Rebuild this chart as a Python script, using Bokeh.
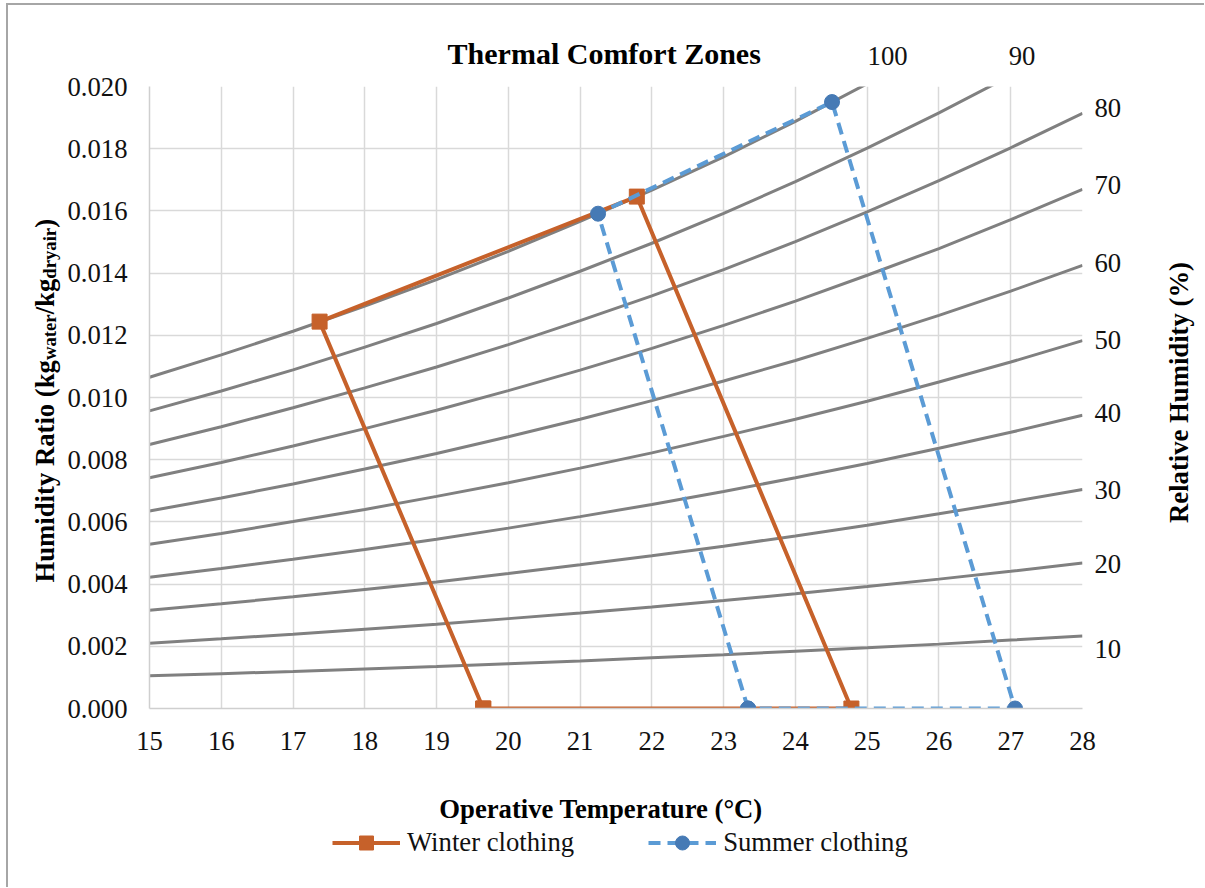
import math
from bokeh.plotting import figure
from bokeh.layouts import column, row
from bokeh.models import (Range1d, FixedTicker, NumeralTickFormatter, Label, LinearAxis,
                          Legend, LegendItem)
from bokeh.embed import file_html
from bokeh.resources import INLINE

# ---------------- data ----------------
temps = [15, 16, 17, 18, 19, 20, 21, 22, 23, 24, 25, 26, 27, 28]

rh_10 = [0.00105, 0.00112, 0.00119, 0.00127, 0.00135, 0.00144, 0.00153, 0.00163, 0.00173, 0.00184, 0.00195, 0.00207, 0.00220, 0.00233]
rh_20 = [0.00210, 0.00224, 0.00239, 0.00255, 0.00271, 0.00289, 0.00307, 0.00326, 0.00347, 0.00369, 0.00392, 0.00416, 0.00441, 0.00468]
rh_30 = [0.00316, 0.00337, 0.00359, 0.00383, 0.00407, 0.00434, 0.00462, 0.00491, 0.00522, 0.00555, 0.00589, 0.00626, 0.00664, 0.00704]
rh_40 = [0.00422, 0.00450, 0.00480, 0.00511, 0.00544, 0.00580, 0.00617, 0.00656, 0.00698, 0.00742, 0.00788, 0.00837, 0.00888, 0.00943]
rh_50 = [0.00528, 0.00563, 0.00601, 0.00640, 0.00682, 0.00726, 0.00773, 0.00822, 0.00875, 0.00930, 0.00988, 0.01050, 0.01114, 0.01183]
rh_60 = [0.00635, 0.00677, 0.00722, 0.00770, 0.00820, 0.00874, 0.00930, 0.00990, 0.01053, 0.01119, 0.01190, 0.01264, 0.01342, 0.01425]
rh_70 = [0.00742, 0.00791, 0.00844, 0.00900, 0.00959, 0.01022, 0.01088, 0.01158, 0.01232, 0.01310, 0.01393, 0.01479, 0.01572, 0.01669]
rh_80 = [0.00849, 0.00906, 0.00967, 0.01031, 0.01098, 0.01170, 0.01247, 0.01327, 0.01411, 0.01501, 0.01597, 0.01697, 0.01803, 0.01914]
rh_90 = [0.00957, 0.01021, 0.01089, 0.01162, 0.01238, 0.01320, 0.01406, 0.01496, 0.01592, 0.01694, 0.01802, 0.01915, 0.02035, 0.02162]
rh_100 = [0.01065, 0.01137, 0.01213, 0.01294, 0.01379, 0.01470, 0.01566, 0.01667, 0.01774, 0.01888, 0.02009, 0.02135, 0.02270, 0.02412]

rh_side_labels = ["10", "20", "30", "40", "50", "60", "70", "80"]
rh_side_label_w = [0.00190, 0.00466, 0.00704, 0.00949, 0.01186, 0.01431, 0.01682, 0.01932]
rh_top_labels = ["100", "90"]
rh_top_label_x = [25.29, 27.16]

winter_temp = [19.65, 17.37, 21.79, 24.78, 19.65]
winter_w = [0.0, 0.01244, 0.01646, 0.0, 0.0]
summer_temp = [23.34, 21.25, 24.51, 27.06, 23.34]
summer_w = [0.0, 0.01591, 0.01950, 0.0, 0.0]

x_ticks = [15, 16, 17, 18, 19, 20, 21, 22, 23, 24, 25, 26, 27, 28]
y_ticks = [0.000, 0.002, 0.004, 0.006, 0.008, 0.010, 0.012, 0.014, 0.016, 0.018, 0.020]

title_text = "Thermal Comfort Zones"
x_title = "Operative Temperature (\u00b0C)"
y2_title = "Relative Humidity (%)"
y_title_parts = ["Humidity Ratio (kg", "water", "/kg", "dryair", ")"]
y_title_is_sub = [False, True, False, True, False]
series_names = ["Winter clothing", "Summer clothing"]

# ---------------- styling / page geometry (pixels) ----------------
FONT = "Liberation Serif"
FS = "26.7px"
SUB_FS = "18.7px"
GRID = "#d9d9d9"
CURVE = "#808080"
ORANGE = "#c6612a"
BLUE_LINE = "#5b9bd5"
BLUE_MARK = "#467ab5"
TXT = "#111111"

TOTAL_W = 1204
TOP_H, MID_H, BOT_H = 70, 700, 117
LEFT_W, MAIN_W = 64, 1063
RIGHT_W = TOTAL_W - LEFT_W - MAIN_W
FRAME_L, FRAME_T, FRAME_R, FRAME_B = 147, 86, 1082, 708

x_range = Range1d(15, 28)
y_range = Range1d(0, 0.020)


def no_align(f):
    if "frame_align" in f.properties():
        f.frame_align = False
    return f


def blank(width, height, xr, yr, **kw):
    f = figure(width=width, height=height, x_range=xr, y_range=yr,
               x_axis_type=None, y_axis_type=None, output_backend="svg",
               toolbar_location=None, min_border=0, **kw)
    f.outline_line_color = None
    f.background_fill_color = None
    f.border_fill_color = None
    f.grid.visible = False
    f.title.visible = False
    return no_align(f)


# ---------------- main chart ----------------
p = figure(width=MAIN_W, height=MID_H, x_range=x_range, y_range=y_range,
           output_backend="svg", toolbar_location=None,
           min_border_left=FRAME_L - LEFT_W, min_border_right=LEFT_W + MAIN_W - FRAME_R,
           min_border_top=FRAME_T - TOP_H, min_border_bottom=TOP_H + MID_H - FRAME_B)
no_align(p)
p.title.visible = False
p.outline_line_color = None
p.background_fill_color = "white"
p.border_fill_color = None

p.xaxis.ticker = FixedTicker(ticks=x_ticks)
p.yaxis.ticker = FixedTicker(ticks=y_ticks)
p.yaxis.formatter = NumeralTickFormatter(format="0.000")
for ax in (p.xaxis[0], p.yaxis[0]):
    ax.major_tick_out = 0
    ax.major_tick_in = 0
    ax.minor_tick_out = 0
    ax.minor_tick_in = 0
    ax.axis_line_color = "#cfcfcf"
    ax.axis_line_width = 1.5
    ax.major_label_text_font = FONT
    ax.major_label_text_font_size = FS
    ax.major_label_text_color = TXT
p.xaxis.major_label_standoff = 23
p.yaxis.major_label_standoff = 22

p.xgrid.grid_line_color = GRID
p.ygrid.grid_line_color = GRID
p.xgrid.grid_line_width = 1.5
p.ygrid.grid_line_width = 1.5

curves = [rh_10, rh_20, rh_30, rh_40, rh_50, rh_60, rh_70, rh_80, rh_90, rh_100]
for rh in curves:
    p.line(temps, rh, line_color=CURVE, line_width=3)

winter_style = dict(line_color=ORANGE, line_width=4)
summer_style = dict(line_color=BLUE_LINE, line_width=4, line_dash="12 7")
winter_mark = dict(marker="square", size=15, fill_color=ORANGE, line_color=ORANGE)
summer_mark = dict(marker="circle", size=15, fill_color=BLUE_MARK, line_color=BLUE_MARK)

p.line(winter_temp, winter_w, **winter_style)
p.scatter(winter_temp, winter_w, **winter_mark)
p.line(summer_temp, summer_w, **summer_style)
p.scatter(summer_temp, summer_w, **summer_mark)

# right axis: RH value labels beside the curve ends
rax = LinearAxis(ticker=FixedTicker(ticks=rh_side_label_w),
                 major_label_overrides={t: s for t, s in zip(rh_side_label_w, rh_side_labels)},
                 axis_line_color=None, major_tick_out=0, major_tick_in=0,
                 minor_tick_out=0, minor_tick_in=0, major_label_standoff=12,
                 major_label_text_font=FONT, major_label_text_font_size=FS,
                 major_label_text_color=TXT)
p.add_layout(rax, "right")

# ---------------- top strip: title and top RH labels ----------------
top = blank(TOTAL_W, TOP_H, x_range, Range1d(0, TOP_H),
            min_border_left=FRAME_L, min_border_right=TOTAL_W - FRAME_R)
top.add_layout(Label(x=21.35, y=TOP_H - 53, text=title_text, text_align="center",
                     text_baseline="alphabetic", text_font=FONT, text_font_size="30px",
                     text_font_style="bold", text_color="#000000"))
for t, lx in zip(rh_top_labels, rh_top_label_x):
    top.add_layout(Label(x=lx, y=TOP_H - 55, text=t, text_align="center",
                         text_baseline="middle", text_font=FONT, text_font_size=FS,
                         text_color=TXT))

# ---------------- left strip: y title with subscripts ----------------
left = blank(LEFT_W, MID_H, Range1d(0, LEFT_W), Range1d(0, MID_H))
y_title_offsets = [0, 222.5, 268.2, 303.8, 354.7]
for part, sub, off in zip(y_title_parts, y_title_is_sub, y_title_offsets):
    left.add_layout(Label(x=44, y=MID_H - (582 - TOP_H), text=part, angle=math.pi / 2,
                          text_align="left", text_baseline="alphabetic",
                          x_offset=5 if sub else 0, y_offset=off,
                          text_font=FONT, text_font_size=SUB_FS if sub else FS,
                          text_font_style="bold", text_color="#000000"))

# ---------------- right strip: secondary title ----------------
right = blank(RIGHT_W, MID_H, Range1d(0, RIGHT_W), Range1d(0, MID_H))
right.add_layout(Label(x=1178 - (LEFT_W + MAIN_W), y=MID_H - (392 - TOP_H), text=y2_title,
                       angle=math.pi / 2, text_align="center", text_baseline="middle",
                       text_font=FONT, text_font_size=FS, text_font_style="bold",
                       text_color="#000000"))

# ---------------- bottom strip: x title and legend ----------------
bottom = blank(TOTAL_W, BOT_H, Range1d(0, TOTAL_W), Range1d(0, BOT_H))
bottom.extra_y_ranges = {"off": Range1d(1, 2)}   # keeps the legend's proxy series off-canvas
bottom.add_layout(Label(x=600.5, y=BOT_H - (808 - TOP_H - MID_H), text=x_title,
                        text_align="center", text_baseline="alphabetic", text_font=FONT,
                        text_font_size=FS, text_font_style="bold", text_color="#000000"))
lw_line = bottom.line(winter_temp, winter_w, y_range_name="off", **winter_style)
lw_pts = bottom.scatter(winter_temp, winter_w, y_range_name="off", **winter_mark)
ls_line = bottom.line(summer_temp, summer_w, y_range_name="off", **summer_style)
ls_pts = bottom.scatter(summer_temp, summer_w, y_range_name="off", **summer_mark)
legend = Legend(items=[LegendItem(label=series_names[0], renderers=[lw_line, lw_pts]),
                       LegendItem(label=series_names[1], renderers=[ls_line, ls_pts])],
                orientation="horizontal", location=(332, BOT_H - (843 - TOP_H - MID_H) - 17),
                glyph_width=68, glyph_height=35, label_standoff=7, spacing=74,
                padding=0, margin=0, background_fill_alpha=0, border_line_color=None,
                label_text_font=FONT, label_text_font_size=FS, label_text_color=TXT)
bottom.add_layout(legend)

layout = column(top, row(left, p, right, spacing=0), bottom, spacing=0)
layout.styles = {"box-shadow": "inset 6px 3px 0 0 #ffffff, inset 8px 5px 0 0 #a6a6a6"}

open("out.html", "w").write(file_html(layout, INLINE))
